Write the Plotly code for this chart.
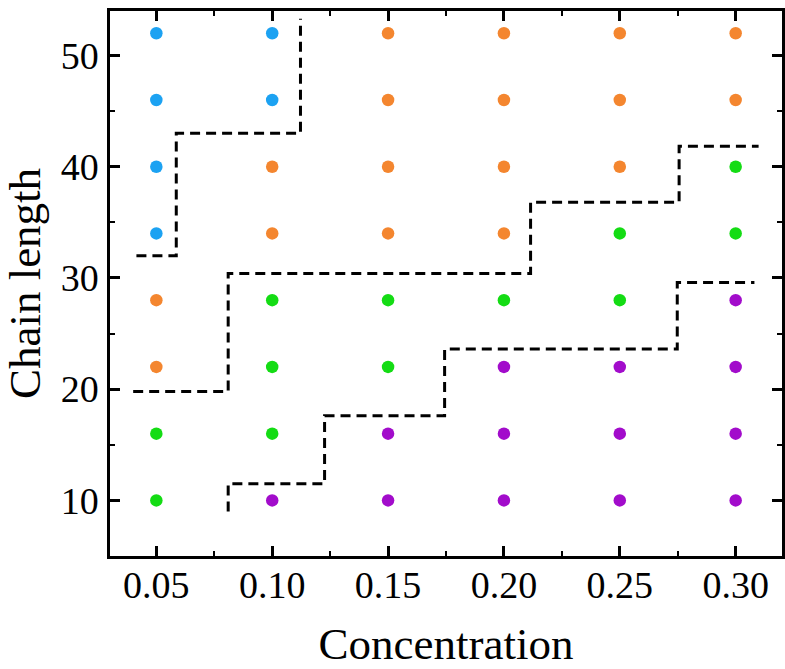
import plotly.graph_objects as go

# ---- data ----
concentrations = [0.05, 0.10, 0.15, 0.20, 0.25, 0.30]
chain_lengths = [10, 16, 22, 28, 34, 40, 46, 52]

# phase at each (concentration column, chain length row), rows bottom -> top
phase_grid = {
    0.05: ["G", "G", "O", "O", "B", "B", "B", "B"],
    0.10: ["P", "G", "G", "G", "O", "O", "B", "B"],
    0.15: ["P", "P", "G", "G", "O", "O", "O", "O"],
    0.20: ["P", "P", "P", "G", "O", "O", "O", "O"],
    0.25: ["P", "P", "P", "G", "G", "O", "O", "O"],
    0.30: ["P", "P", "P", "P", "G", "G", "O", "O"],
}
phase_colors = {"B": "#1CA2F2", "O": "#F4862F", "G": "#14DC14", "P": "#A20CCB"}

# dashed phase boundaries
b1_x = [0.0414, 0.0586, 0.0586, 0.1122, 0.1122]
b1_y = [32.0, 32.0, 43.0, 43.0, 53.3]
b2_x = [0.040, 0.081, 0.081, 0.2115, 0.2115, 0.2756, 0.2756, 0.3099]
b2_y = [19.8, 19.8, 30.4, 30.4, 36.8, 36.8, 41.85, 41.85]
b3_x = [0.081, 0.081, 0.1226, 0.1226, 0.1744, 0.1744, 0.2748, 0.2748, 0.3081]
b3_y = [9.0, 11.5, 11.5, 17.6, 17.6, 23.6, 23.6, 29.6, 29.6]

x_ticks = [0.05, 0.10, 0.15, 0.20, 0.25, 0.30]
x_ticktext = ["0.05", "0.10", "0.15", "0.20", "0.25", "0.30"]
y_ticks = [10, 20, 30, 40, 50]

fig = go.Figure()

for ph in ["B", "O", "G", "P"]:
    xs, ys = [], []
    for c in concentrations:
        for L, p in zip(chain_lengths, phase_grid[c]):
            if p == ph:
                xs.append(c)
                ys.append(L)
    fig.add_trace(go.Scatter(x=xs, y=ys, mode="markers",
                             marker=dict(size=12.5, color=phase_colors[ph], line=dict(width=0)),
                             showlegend=False, hoverinfo="skip"))

for bx, by in [(b1_x, b1_y), (b2_x, b2_y), (b3_x, b3_y)]:
    fig.add_trace(go.Scatter(x=bx, y=by, mode="lines",
                             line=dict(color="black", width=3, dash="10px,6px"),
                             showlegend=False, hoverinfo="skip"))

font_family = "Liberation Serif"
axis_common = dict(
    showgrid=False, zeroline=False, showline=True, linecolor="black", linewidth=2.5,
    mirror="allticks", ticks="inside", ticklen=10, tickwidth=2.5, tickcolor="black",
    tickfont=dict(family=font_family, size=38, color="black"),
)

fig.update_layout(
    width=785, height=669,
    margin=dict(l=110, r=0, t=11, b=113),
    paper_bgcolor="white", plot_bgcolor="white",
    xaxis=dict(range=[0.03, 0.32], tickvals=x_ticks, ticktext=x_ticktext,
               minor=dict(dtick=0.025, tick0=0.025, ticks="inside", ticklen=5, tickwidth=2, tickcolor="black"),
               title=dict(text="Concentration", font=dict(family=font_family, size=45, color="black"), standoff=27),
               ticklabelstandoff=-6,
               **axis_common),
    yaxis=dict(range=[5, 54], tickvals=y_ticks,
               minor=dict(dtick=5, tick0=5, ticks="inside", ticklen=5, tickwidth=2, tickcolor="black"),
               title=dict(text="Chain length", font=dict(family=font_family, size=45, color="black"), standoff=12),
               ticklabelstandoff=1,
               **axis_common),
)

fig.write_html("out.html")
